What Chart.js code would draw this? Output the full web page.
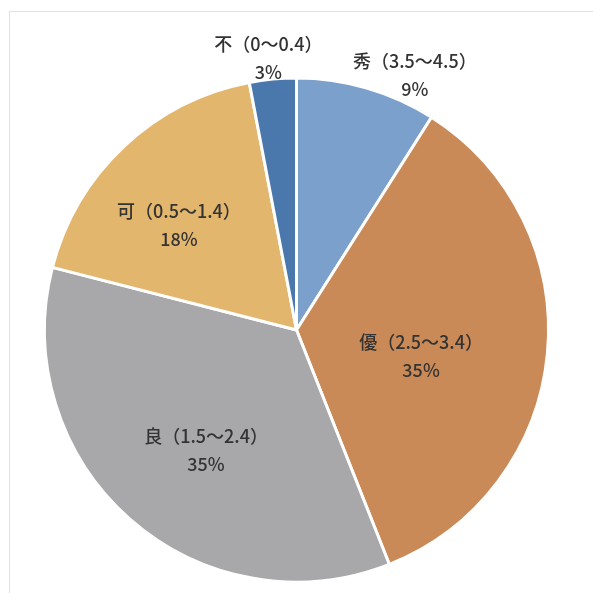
<!DOCTYPE html>
<html>
<head>
<meta charset="utf-8">
<script src="https://cdn.jsdelivr.net/npm/chart.js@4.4.1/dist/chart.umd.min.js"></script>
<style>
  html, body { margin: 0; padding: 0; background: #fff; }
  #wrap { position: relative; width: 593px; height: 593px; overflow: hidden; }
  #frame {
    position: absolute; left: 9px; top: 11px; width: 640px; height: 640px;
    border: 1px solid #e2e2e2; box-sizing: border-box;
  }
  #grade-chart { position: absolute; left: 0; top: 0; }
</style>
</head>
<body>
<div id="wrap">
  <div id="frame"></div>
  <canvas id="grade-chart" width="593" height="593"></canvas>
</div>
<script>
// grade bands (GPA ranges) and share of students, in %
const gradeNames = ["秀", "優", "良", "可", "不"];
const gradeRanges = ["3.5～4.5", "2.5～3.4", "1.5～2.4", "0.5～1.4", "0～0.4"];
const gradeShares = [9, 35, 35, 18, 3];

const SLICE_COLORS = ["#7ba0cc", "#c98a57", "#a8a8ab", "#e3b66e", "#4a78ad"];

// where each data label sits: radius as a share of the pie radius, and a small turn off the slice middle
const LABEL_PLACES = [
  { r: 1.115, turn: 8.7 },
  { r: 0.505, turn: 6.4 },
  { r: 0.598, turn: -4.5 },
  { r: 0.624, turn: -5.2 },
  { r: 1.085, turn: -0.5 },
];

function createSliceLabelPlugin() {
  return {
    id: "grade-slice-labels",
    afterDatasetsDraw(chart) {
      const { ctx } = chart;
      const meta = chart.getDatasetMeta(0);
      ctx.save();
      ctx.font = "500 18px 'Noto Sans CJK JP', 'Noto Sans', sans-serif";
      ctx.fillStyle = "#333333";
      ctx.textAlign = "center";
      ctx.textBaseline = "middle";
      meta.data.forEach((arc, index) => {
        const place = LABEL_PLACES[index];
        const mid = (arc.startAngle + arc.endAngle) / 2 + (place.turn * Math.PI) / 180;
        const radius = arc.outerRadius * place.r;
        const x = arc.x + Math.cos(mid) * radius;
        const y = arc.y + Math.sin(mid) * radius;
        ctx.fillText(`${gradeNames[index]}（${gradeRanges[index]}）`, x, y - 14);
        ctx.fillText(`${gradeShares[index]}%`, x, y + 14);
      });
      ctx.restore();
    },
  };
}

new Chart(document.getElementById("grade-chart"), {
  type: "pie",
  data: {
    labels: gradeNames.map((name, i) => `${name}（${gradeRanges[i]}）`),
    datasets: [
      {
        data: gradeShares,
        backgroundColor: SLICE_COLORS,
        borderColor: "#ffffff",
        borderWidth: 3,
      },
    ],
  },
  options: {
    responsive: false,
    animation: false,
    layout: { padding: { left: 43, right: 43, top: 76, bottom: 9 } },
    plugins: {
      legend: { display: false },
      tooltip: { enabled: false },
      title: { display: false },
    },
  },
  plugins: [createSliceLabelPlugin()],
});
</script>
</body>
</html>
